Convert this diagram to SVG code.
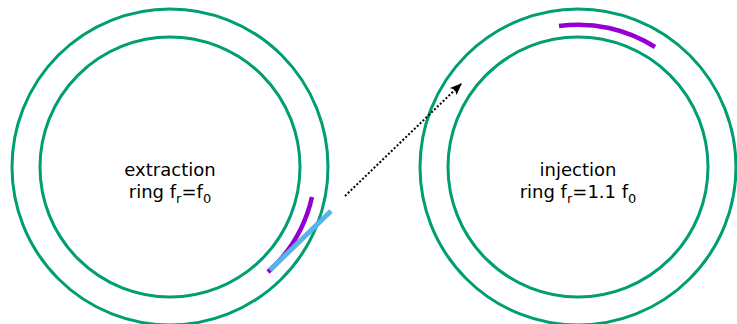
<svg xmlns="http://www.w3.org/2000/svg" width="737" height="324" viewBox="0 0 737 324">
<style>
.ring{fill:none;stroke:#009E73;stroke-width:3}
.bunch{fill:none;stroke:#9400D3;stroke-width:4.5}
.lbl{font-family:"DejaVu Sans",sans-serif;font-size:18px;fill:#000;text-anchor:middle}
</style>
<defs>
<marker id="ah" viewBox="0 0 10 10" refX="9" refY="5" markerWidth="14" markerHeight="12" orient="auto" markerUnits="userSpaceOnUse">
<path d="M0,1 L10,5 L0,9 L2,5 Z" fill="#000"/>
</marker>
</defs>
<g id="extraction">
<circle class="ring" cx="170" cy="167" r="158"/>
<circle class="ring" cx="170" cy="167" r="130"/>
<path class="bunch" d="M312,197 A144,144 0 0 1 268,272"/>
<line x1="331" y1="211" x2="270" y2="270" stroke="#56B4E9" stroke-width="5"/>
<text class="lbl" x="170" y="176">extraction</text>
<text class="lbl" x="170" y="198">ring f<tspan font-size="13" dy="5">r</tspan><tspan dy="-5">=f</tspan><tspan font-size="13" dy="5">0</tspan></text>
</g>
<g id="injection">
<circle class="ring" cx="578" cy="167" r="158"/>
<circle class="ring" cx="578" cy="167" r="130"/>
<path class="bunch" d="M559,26 A142.5,142.5 0 0 1 655,47"/>
<text class="lbl" x="578" y="176">injection</text>
<text class="lbl" x="578" y="198">ring f<tspan font-size="13" dy="5">r</tspan><tspan dy="-5">=1.1 f</tspan><tspan font-size="13" dy="5">0</tspan></text>
</g>
<g id="connectors">
<line x1="345" y1="196" x2="461" y2="84" stroke="#000" stroke-width="2" stroke-dasharray="2,2" marker-end="url(#ah)"/>
</g>
</svg>
